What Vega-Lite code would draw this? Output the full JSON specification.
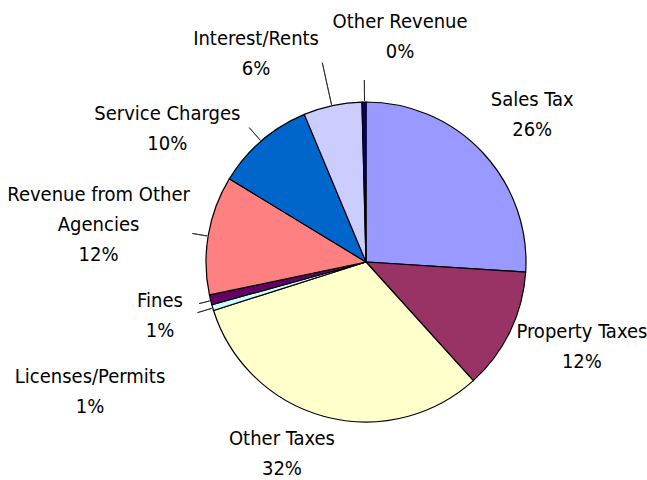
{
  "$schema": "https://vega.github.io/schema/vega-lite/v6.json",
  "width": 562,
  "height": 436,
  "autosize": "none",
  "padding": {"left": 85, "top": 44, "right": 0, "bottom": 0},
  "background": "white",
  "view": {"stroke": null},
  "config": {"text": {"font": "Liberation Sans Narrow, Arial Narrow, DejaVu Sans Condensed, Liberation Sans, sans-serif", "fontSize": 20, "lineHeight": 30, "baseline": "middle", "align": "center"}},
  "data": {
    "values": [
      {"category": "Sales Tax", "share": 0.26},
      {"category": "Property Taxes", "share": 0.123},
      {"category": "Other Taxes", "share": 0.318},
      {"category": "Licenses/Permits", "share": 0.006},
      {"category": "Fines", "share": 0.01},
      {"category": "Revenue from Other Agencies", "share": 0.12},
      {"category": "Service Charges", "share": 0.1},
      {"category": "Interest/Rents", "share": 0.059},
      {"category": "Other Revenue", "share": 0.004}
    ]
  },
  "transform": [
    {"stack": "share", "groupby": [], "as": ["t0", "t1"]},
    {"calculate": "datum.category === 'Revenue from Other Agencies' ? ['Revenue from Other', 'Agencies', format(datum.share, '.0%')] : [datum.category, format(datum.share, '.0%')]", "as": "label"}
  ],
  "layer": [
    {
      "mark": {"type": "arc", "outerRadius": 160, "stroke": "black", "strokeWidth": 1.2},
      "encoding": {
        "theta": {"field": "t0", "type": "quantitative", "scale": {"domain": [0, 1]}},
        "theta2": {"field": "t1"},
        "color": {
          "field": "category", "type": "nominal", "legend": null,
          "scale": {
            "domain": ["Sales Tax", "Property Taxes", "Other Taxes", "Licenses/Permits", "Fines", "Revenue from Other Agencies", "Service Charges", "Interest/Rents", "Other Revenue"],
            "range": ["#9999FF", "#993366", "#FFFFCC", "#CCFFFF", "#660066", "#FF8080", "#0066CC", "#CCCCFF", "#000080"]
          }
        }
      }
    },
    {"transform": [{"filter": "datum.category === 'Interest/Rents'"}], "mark": {"type": "arc", "fill": null, "stroke": "#222", "strokeWidth": 0.8, "innerRadius": 161, "outerRadius": 204, "thetaOffset": 0.18, "theta2Offset": 0.18}, "encoding": {"theta": {"field": "t0", "type": "quantitative"}, "theta2": {"field": "t0"}}},
    {"transform": [{"filter": "datum.category === 'Service Charges'"}], "mark": {"type": "arc", "fill": null, "stroke": "#222", "strokeWidth": 0.8, "innerRadius": 161, "outerRadius": 178, "thetaOffset": 0.309, "theta2Offset": 0.309}, "encoding": {"theta": {"field": "t0", "type": "quantitative"}, "theta2": {"field": "t0"}}},
    {"transform": [{"filter": "datum.category === 'Other Revenue'"}], "mark": {"type": "arc", "fill": null, "stroke": "#222", "strokeWidth": 0.8, "innerRadius": 161, "outerRadius": 182, "thetaOffset": 0.016, "theta2Offset": 0.016}, "encoding": {"theta": {"field": "t0", "type": "quantitative"}, "theta2": {"field": "t0"}}},
    {"transform": [{"filter": "datum.category === 'Revenue from Other Agencies'"}], "mark": {"type": "arc", "fill": null, "stroke": "#222", "strokeWidth": 0.8, "innerRadius": 161, "outerRadius": 176, "thetaOffset": 0.37, "theta2Offset": 0.37}, "encoding": {"theta": {"field": "t0", "type": "quantitative"}, "theta2": {"field": "t0"}}},
    {"transform": [{"filter": "datum.category === 'Fines'"}], "mark": {"type": "arc", "fill": null, "stroke": "#222", "strokeWidth": 0.8, "innerRadius": 161, "outerRadius": 172, "thetaOffset": 0.026, "theta2Offset": 0.026}, "encoding": {"theta": {"field": "t0", "type": "quantitative"}, "theta2": {"field": "t0"}}},
    {"transform": [{"filter": "datum.category === 'Licenses/Permits'"}], "mark": {"type": "arc", "fill": null, "stroke": "#222", "strokeWidth": 0.8, "innerRadius": 161, "outerRadius": 176, "thetaOffset": 0.016, "theta2Offset": 0.016}, "encoding": {"theta": {"field": "t0", "type": "quantitative"}, "theta2": {"field": "t0"}}},
    {"transform": [{"filter": "datum.category === 'Sales Tax'"}], "mark": {"type": "text", "radius": 222, "thetaOffset": 0.846, "dy": -15}, "encoding": {"theta": {"field": "t0", "type": "quantitative"}, "text": {"field": "label"}}},
    {"transform": [{"filter": "datum.category === 'Property Taxes'"}], "mark": {"type": "text", "radius": 232, "thetaOffset": 0.312, "dy": -15}, "encoding": {"theta": {"field": "t0", "type": "quantitative"}, "text": {"field": "label"}}},
    {"transform": [{"filter": "datum.category === 'Other Taxes'"}], "mark": {"type": "text", "radius": 210, "thetaOffset": 1.147, "dy": -15}, "encoding": {"theta": {"field": "t0", "type": "quantitative"}, "text": {"field": "label"}}},
    {"transform": [{"filter": "datum.category === 'Licenses/Permits'"}], "mark": {"type": "text", "radius": 305, "thetaOffset": -0.132, "dy": -15}, "encoding": {"theta": {"field": "t0", "type": "quantitative"}, "text": {"field": "label"}}},
    {"transform": [{"filter": "datum.category === 'Fines'"}], "mark": {"type": "text", "radius": 213, "thetaOffset": 0.014, "dy": -15}, "encoding": {"theta": {"field": "t0", "type": "quantitative"}, "text": {"field": "label"}}},
    {"transform": [{"filter": "datum.category === 'Revenue from Other Agencies'"}], "mark": {"type": "text", "radius": 270, "thetaOffset": 0.346, "dy": -30}, "encoding": {"theta": {"field": "t0", "type": "quantitative"}, "text": {"field": "label"}}},
    {"transform": [{"filter": "datum.category === 'Service Charges'"}], "mark": {"type": "text", "radius": 239, "thetaOffset": 0.043, "dy": -15}, "encoding": {"theta": {"field": "t0", "type": "quantitative"}, "text": {"field": "label"}}},
    {"transform": [{"filter": "datum.category === 'Interest/Rents'"}], "mark": {"type": "text", "radius": 235, "thetaOffset": -0.091, "dy": -15}, "encoding": {"theta": {"field": "t0", "type": "quantitative"}, "text": {"field": "label"}}},
    {"transform": [{"filter": "datum.category === 'Other Revenue'"}], "mark": {"type": "text", "radius": 228, "thetaOffset": 0.175, "dy": -15}, "encoding": {"theta": {"field": "t0", "type": "quantitative"}, "text": {"field": "label"}}}
  ]
}
